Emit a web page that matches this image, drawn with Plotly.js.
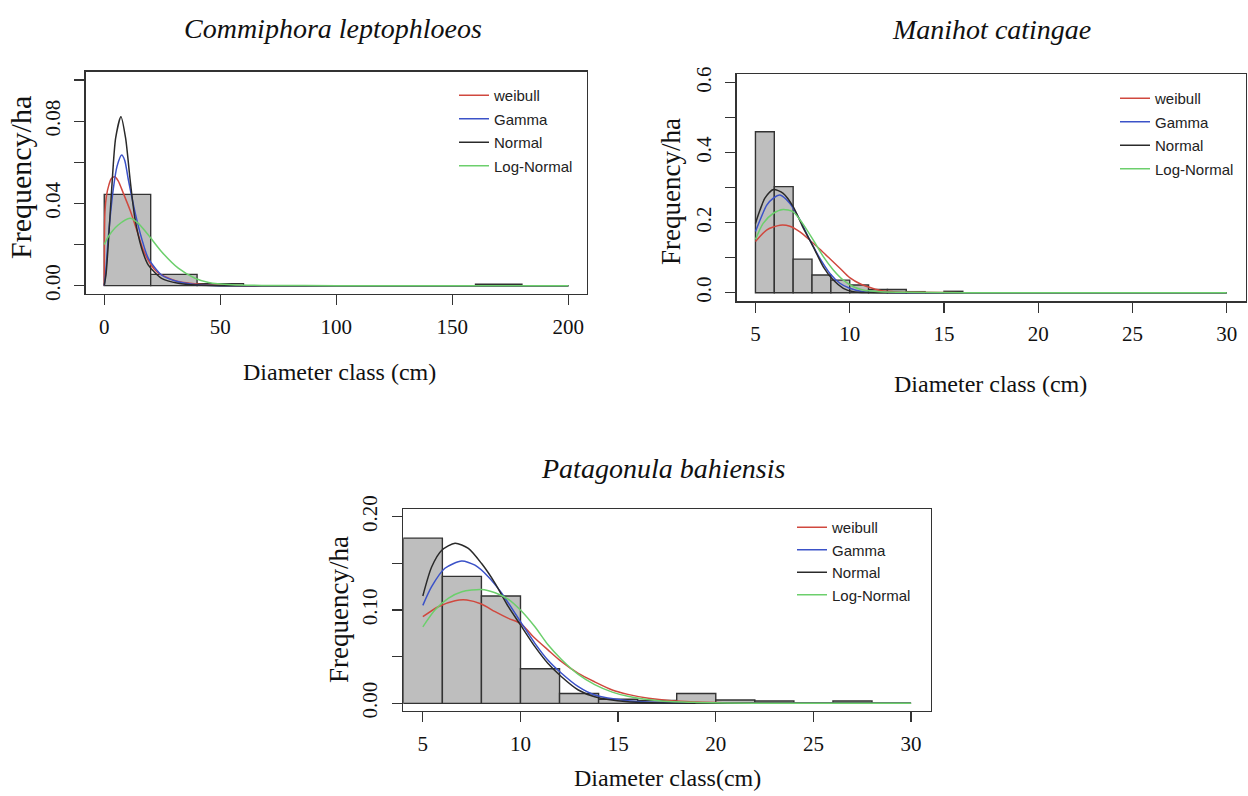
<!DOCTYPE html>
<html>
<head>
<meta charset="utf-8">
<script src="https://cdn.plot.ly/plotly-3.0.1.min.js"></script>
<style>html,body{margin:0;padding:0;background:#fff;}#chart{width:1248px;height:796px;}</style>
</head>
<body>
<div id="chart"></div>
<script>
// ---------------- DATA ----------------
const seriesNames = ['weibull', 'Gamma', 'Normal', 'Log-Normal'];

// Panel 1: Commiphora leptophloeos
const cl_title = 'Commiphora leptophloeos';
const cl_edges = [0, 20, 40, 60, 80, 100, 120, 140, 160, 180, 200];
const cl_freq = [0.0444, 0.0055, 0.001, 0, 0, 0, 0, 0, 0.0007, 0];
const cl_weibull_x = [0, 0.3, 1, 2, 3, 4.5, 6, 8.2, 11.1, 14, 16.8, 19.7, 22.6, 26, 29.7, 33, 36.9, 42, 50, 60, 80, 120, 200];
const cl_weibull_y = [0, 0.036, 0.044, 0.049, 0.052, 0.053, 0.051, 0.045, 0.0368, 0.0271, 0.0174, 0.0109, 0.0068, 0.0045, 0.0028, 0.0018, 0.0012, 0.0006, 0.0002, 0, 0, 0, 0];
const cl_gamma_x = [0, 0.6, 1.7, 3.9, 5.5, 7.5, 8.8, 10.3, 13.2, 16.1, 19, 24.7, 31.9, 40, 50, 80, 200];
const cl_gamma_y = [0, 0.006, 0.023, 0.047, 0.058, 0.0635, 0.061, 0.052, 0.036, 0.023, 0.0133, 0.0052, 0.0019, 0.0005, 0, 0, 0];
const cl_normal_x = [0, 0.8, 1.7, 3.2, 4.9, 7.2, 9.2, 11.1, 13.2, 16.1, 19, 24.7, 31.9, 40, 50, 80, 200];
const cl_normal_y = [0, 0.006, 0.0198, 0.047, 0.0717, 0.0822, 0.0717, 0.052, 0.0328, 0.0182, 0.01, 0.0036, 0.0012, 0.0003, 0, 0, 0];
const cl_lognormal_x = [0, 1.7, 6, 11.1, 14.7, 19, 24.7, 31.9, 39.1, 45, 55, 70, 100, 150, 200];
const cl_lognormal_y = [0.02, 0.0238, 0.0295, 0.0328, 0.0303, 0.0246, 0.0165, 0.0085, 0.0036, 0.0015, 0.0004, 0.0001, 0, 0, 0];
const cl_xticks = [0, 50, 100, 150, 200];
const cl_yticks = [0, 0.02, 0.04, 0.06, 0.08, 0.10];
const cl_yticklabels = ['0.00', '', '0.04', '', '0.08', ''];

// Panel 2: Manihot catingae
const mc_title = 'Manihot catingae';
const mc_edges = [5, 6, 7, 8, 9, 10, 11, 12, 13, 14, 15, 16];
const mc_freq = [0.46, 0.303, 0.096, 0.0506, 0.036, 0.022, 0.009, 0.009, 0.003, 0, 0.004];
const mc_weibull_x = [5, 5.59, 6.3, 6.83, 7.36, 7.89, 8.42, 8.95, 9.48, 10.0, 10.6, 11.2, 11.7, 12.3, 13.5, 16, 20, 30];
const mc_weibull_y = [0.146, 0.179, 0.193, 0.19, 0.174, 0.15, 0.124, 0.097, 0.07, 0.043, 0.024, 0.0126, 0.0055, 0.003, 0.001, 0, 0, 0];
const mc_gamma_x = [5, 5.3, 5.6, 5.95, 6.3, 6.83, 7.36, 7.89, 8.42, 8.95, 9.48, 10.0, 10.7, 11.5, 13, 20, 30];
const mc_gamma_y = [0.175, 0.215, 0.25, 0.27, 0.279, 0.255, 0.208, 0.15, 0.098, 0.055, 0.027, 0.0126, 0.003, 0.001, 0, 0, 0];
const mc_normal_x = [5, 5.24, 5.5, 5.95, 6.47, 7.0, 7.5, 8.07, 8.6, 9.13, 9.66, 10.2, 11, 12, 15, 20, 30];
const mc_normal_y = [0.198, 0.236, 0.27, 0.295, 0.284, 0.246, 0.189, 0.131, 0.074, 0.036, 0.0126, 0.003, 0.0005, 0, 0, 0, 0];
const mc_lognormal_x = [5, 5.41, 5.95, 6.47, 7.0, 7.5, 8.07, 8.6, 9.13, 9.66, 10.2, 10.7, 11.6, 13, 16, 20, 30];
const mc_lognormal_y = [0.152, 0.198, 0.227, 0.238, 0.231, 0.198, 0.15, 0.103, 0.065, 0.036, 0.017, 0.0077, 0.003, 0.001, 0, 0, 0];
const mc_xticks = [5, 10, 15, 20, 25, 30];
const mc_yticks = [0, 0.1, 0.2, 0.3, 0.4, 0.5, 0.6];
const mc_yticklabels = ['0.0', '', '0.2', '', '0.4', '', '0.6'];

// Panel 3: Patagonula bahiensis
const pb_title = 'Patagonula bahiensis';
const pb_edges = [4, 6, 8, 10, 12, 14, 16, 18, 20, 22, 24, 26, 28];
const pb_freq = [0.177, 0.136, 0.115, 0.037, 0.0105, 0.0043, 0.003, 0.0105, 0.0035, 0.0025, 0, 0.0025];
const pb_weibull_x = [5, 5.79, 6.65, 7.25, 8.0, 8.7, 9.38, 10.0, 10.74, 11.42, 12.1, 12.96, 13.8, 14.7, 15.5, 16.55, 17.74, 20, 25, 30];
const pb_weibull_y = [0.0928, 0.1035, 0.11, 0.1107, 0.1064, 0.0982, 0.091, 0.0857, 0.0697, 0.057, 0.0446, 0.032, 0.023, 0.0143, 0.0096, 0.0054, 0.0028, 0.0008, 0.0001, 0];
const pb_gamma_x = [5, 5.45, 6.13, 6.99, 7.67, 8.35, 9.04, 10.0, 10.74, 11.4, 12.1, 12.96, 13.8, 15.5, 17.5, 20, 25, 30];
const pb_gamma_y = [0.105, 0.125, 0.1447, 0.1525, 0.148, 0.1357, 0.118, 0.0875, 0.0643, 0.0464, 0.0322, 0.0178, 0.0089, 0.0028, 0.0008, 0.0002, 0, 0];
const pb_normal_x = [5, 5.45, 5.97, 6.65, 7.33, 8.0, 8.7, 9.38, 10.0, 10.74, 11.4, 12.1, 12.96, 13.8, 15.5, 17.5, 20, 25, 30];
const pb_normal_y = [0.115, 0.146, 0.164, 0.1715, 0.166, 0.150, 0.1286, 0.1035, 0.084, 0.0607, 0.0429, 0.0285, 0.0143, 0.0071, 0.0017, 0.0003, 0, 0, 0];
const pb_lognormal_x = [5, 5.62, 6.3, 7.0, 8.0, 8.7, 9.38, 10.0, 10.74, 11.4, 12.1, 12.96, 13.8, 14.7, 15.5, 17.2, 19, 22, 26, 30];
const pb_lognormal_y = [0.082, 0.1, 0.1125, 0.1196, 0.122, 0.1185, 0.1115, 0.1, 0.082, 0.063, 0.047, 0.031, 0.02, 0.012, 0.0075, 0.0025, 0.001, 0.0002, 0, 0];
const pb_xticks = [5, 10, 15, 20, 25, 30];
const pb_yticks = [0, 0.05, 0.10, 0.15, 0.20];
const pb_yticklabels = ['0.00', '', '0.10', '', '0.20'];

const xAxisTitle12 = 'Diameter class (cm)';
const xAxisTitle3 = 'Diameter class(cm)';
const yAxisTitle = 'Frequency/ha';

// ---------------- BUILD ----------------
const W = 1248, H = 796;
const X = px => px / W;
const Y = py => 1 - py / H;
const colors = ['#d0483e', '#3b52c8', '#2a2a2a', '#6ccf6c'];
const SERIF = 'Liberation Serif, Times New Roman, serif';
const SANS = 'Liberation Sans, Arial, sans-serif';

function barTrace(edges, freq, xa, ya) {
  const centers = [], widths = [];
  for (let i = 0; i < freq.length; i++) {
    centers.push((edges[i] + edges[i + 1]) / 2);
    widths.push(edges[i + 1] - edges[i]);
  }
  return {
    type: 'bar', x: centers, y: freq, width: widths, xaxis: xa, yaxis: ya,
    marker: {color: '#bebebe', line: {color: '#333', width: 1.4}},
    showlegend: false, hoverinfo: 'x+y'
  };
}
function curve(xs, ys, idx, xa, ya, leg) {
  return {
    type: 'scatter', mode: 'lines', x: xs, y: ys, xaxis: xa, yaxis: ya,
    name: seriesNames[idx], legend: leg, legendgroup: leg + idx,
    line: {color: colors[idx], width: 1.5, shape: 'spline', smoothing: 0.7}
  };
}

const traces = [
  barTrace(cl_edges, cl_freq, 'x', 'y'),
  curve(cl_weibull_x, cl_weibull_y, 0, 'x', 'y', 'legend'),
  curve(cl_gamma_x, cl_gamma_y, 1, 'x', 'y', 'legend'),
  curve(cl_normal_x, cl_normal_y, 2, 'x', 'y', 'legend'),
  curve(cl_lognormal_x, cl_lognormal_y, 3, 'x', 'y', 'legend'),
  barTrace(mc_edges, mc_freq, 'x2', 'y2'),
  curve(mc_weibull_x, mc_weibull_y, 0, 'x2', 'y2', 'legend2'),
  curve(mc_gamma_x, mc_gamma_y, 1, 'x2', 'y2', 'legend2'),
  curve(mc_normal_x, mc_normal_y, 2, 'x2', 'y2', 'legend2'),
  curve(mc_lognormal_x, mc_lognormal_y, 3, 'x2', 'y2', 'legend2'),
  barTrace(pb_edges, pb_freq, 'x3', 'y3'),
  curve(pb_weibull_x, pb_weibull_y, 0, 'x3', 'y3', 'legend3'),
  curve(pb_gamma_x, pb_gamma_y, 1, 'x3', 'y3', 'legend3'),
  curve(pb_normal_x, pb_normal_y, 2, 'x3', 'y3', 'legend3'),
  curve(pb_lognormal_x, pb_lognormal_y, 3, 'x3', 'y3', 'legend3')
];

const axBase = {
  showline: true, mirror: true, linecolor: '#333', linewidth: 1.5,
  ticks: 'outside', ticklen: 10, tickwidth: 1.3, tickcolor: '#333',
  showgrid: false, zeroline: false, fixedrange: true,
  tickfont: {family: SERIF, size: 21, color: '#111'}
};
function xax(domain, range, ticks, anchor) {
  return Object.assign({}, axBase, {domain, range, anchor, tickmode: 'array',
    tickvals: ticks, ticktext: ticks.map(String), ticklabelstandoff: 3});
}
function yax(domain, range, ticks, labels, anchor) {
  return Object.assign({}, axBase, {domain, range, anchor, tickmode: 'array',
    tickvals: ticks, ticktext: labels, tickangle: -90, ticklabelstandoff: 6});
}
function legendAt(px, py, gap, order) {
  return {x: X(px), y: Y(py), xanchor: 'left', yanchor: 'top', bgcolor: 'rgba(0,0,0,0)',
    borderwidth: 0, font: {family: SANS, size: 15, color: '#222'}, tracegroupgap: gap,
    itemwidth: 30, traceorder: order};
}
function ann(text, px, py, size, angle, italic) {
  return {text: italic ? '<i>' + text + '</i>' : text, x: X(px), y: Y(py), xref: 'paper', yref: 'paper',
    showarrow: false, xanchor: 'center', yanchor: 'middle', textangle: angle || 0,
    font: {family: SERIF, size: size, color: '#111'}};
}

const layout = {
  width: W, height: H, autosize: false,
  margin: {l: 0, r: 0, t: 0, b: 0},
  paper_bgcolor: '#fff', plot_bgcolor: '#fff',
  barmode: 'overlay',
  xaxis: xax([X(85.7), X(586.9)], [-8, 208], cl_xticks, 'y'),
  yaxis: yax([Y(293.9), Y(71.8)], [-0.004, 0.104], cl_yticks, cl_yticklabels, 'x'),
  xaxis2: xax([X(736.6), X(1245.6)], [4, 31], mc_xticks, 'y2'),
  yaxis2: yax([Y(301.1), Y(74.3)], [-0.024, 0.624], mc_yticks, mc_yticklabels, 'x2'),
  xaxis3: xax([X(403.3), X(930.6)], [4, 31], pb_xticks, 'y3'),
  yaxis3: yax([Y(710.8), Y(509.2)], [-0.008, 0.208], pb_yticks, pb_yticklabels, 'x3'),
  legend: legendAt(454, 79, 1, 'grouped'),
  legend2: legendAt(1115, 82, 1, 'grouped'),
  legend3: legendAt(792, 511, 0, 'normal'),
  annotations: [
    ann(cl_title, 333, 28, 28, 0, true),
    ann(mc_title, 991, 30, 28, 0, true),
    ann(pb_title, 663, 468, 28, 0, true),
    ann(xAxisTitle12, 340, 372, 24),
    ann(xAxisTitle12, 990, 384, 24),
    ann(xAxisTitle3, 667, 778, 24),
    ann(yAxisTitle, 20, 178, 30, -90),
    ann(yAxisTitle, 671, 192, 27, -90),
    ann(yAxisTitle, 339, 610, 27, -90)
  ],
  showlegend: true
};

Plotly.newPlot('chart', traces, layout, {displayModeBar: false, staticPlot: true});
</script>
</body>
</html>
